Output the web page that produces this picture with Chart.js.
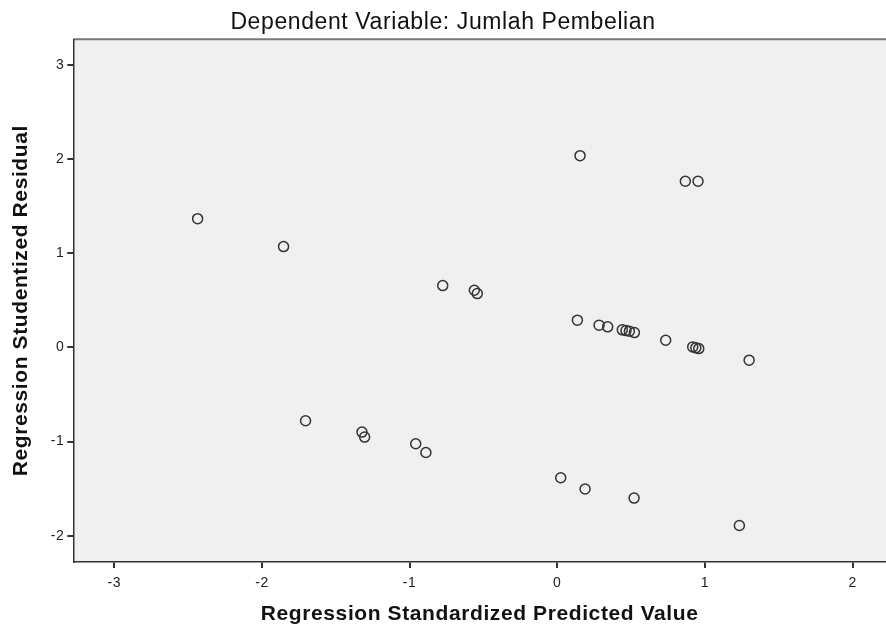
<!DOCTYPE html>
<html>
<head>
<meta charset="utf-8">
<script src="https://cdn.jsdelivr.net/npm/chart.js@4/dist/chart.umd.min.js"></script>
<style>
  body { margin: 0; background: #fff; }
  #wrap { width: 886px; height: 629px; }
</style>
</head>
<body>
<div id="wrap"><canvas id="scatter" width="886" height="629"></canvas></div>
<script>
// values
const predicted = [
    -2.436, -1.854, -0.776, -0.562, -0.542,
    0.154, 0.867, 0.953, 0.136, 0.283, 0.341,
    0.440, 0.465, 0.488, 0.522, 0.734,
    0.917, 0.938, 0.958, 1.299,
    -1.705, -1.323, -1.305, -0.959, -0.890,
    0.023, 0.188, 0.520, 1.233
];
const residual = [
    1.368, 1.071, 0.657, 0.608, 0.572,
    2.037, 1.765, 1.765, 0.290, 0.237, 0.219,
    0.187, 0.179, 0.173, 0.158, 0.077,
    0.006, -0.004, -0.012, -0.135,
    -0.779, -0.899, -0.952, -1.023, -1.116,
    -1.384, -1.504, -1.600, -1.891
];
const xTicks = [-3, -2, -1, 0, 1, 2];
const yTicks = [-2, -1, 0, 1, 2, 3];

const FONT = "'Liberation Sans', Arial, sans-serif";

// grey plot area with the darker top edge, and the slightly wide SPSS lettering
const plotBg = {
    id: 'plotBg',
    beforeInit(chart) {
        chart.ctx.letterSpacing = '0.6px';
    },
    beforeDraw(chart) {
        const { ctx, chartArea: a } = chart;
        ctx.letterSpacing = '0.6px';
        ctx.save();
        ctx.fillStyle = '#f0f0f0';
        ctx.fillRect(a.left, a.top, a.right - a.left, a.bottom - a.top);
        ctx.strokeStyle = '#777';
        ctx.lineWidth = 2;
        ctx.beginPath();
        ctx.moveTo(a.left, a.top);
        ctx.lineTo(a.right, a.top);
        ctx.stroke();
        ctx.restore();
    }
};

const points = predicted.map((x, i) => ({ x: x, y: residual[i] }));

new Chart(document.getElementById('scatter'), {
    type: 'scatter',
    data: {
        datasets: [{
            data: points,
            pointRadius: 5,
            pointHoverRadius: 5,
            pointBackgroundColor: 'rgba(0,0,0,0)',
            pointBorderColor: '#333',
            pointBorderWidth: 1.5
        }]
    },
    options: {
        responsive: false,
        animation: false,
        layout: { padding: 0, autoPadding: false },
        plugins: {
            legend: { display: false },
            tooltip: { enabled: false },
            title: {
                display: true,
                text: 'Dependent Variable: Jumlah Pembelian',
                color: '#111',
                font: { family: FONT, size: 23, weight: 'normal' },
                padding: { top: 8.5, bottom: 3.2 }
            }
        },
        scales: {
            x: {
                type: 'linear',
                min: -3.278,
                max: 2.226,
                afterBuildTicks(scale) { scale.ticks = xTicks.map(v => ({ value: v })); },
                afterFit(scale) { scale.height = 67; },
                ticks: { autoSkip: false, maxRotation: 0, padding: 7, color: '#222', font: { family: FONT, size: 14 } },
                grid: { drawOnChartArea: false, tickLength: 6, color: '#333', lineWidth: 2 },
                border: { display: true, color: '#333', width: 1.5 },
                title: {
                    display: true,
                    text: 'Regression Standardized Predicted Value',
                    color: '#111',
                    font: { family: FONT, size: 21, weight: 'bold' },
                    padding: { top: 0, bottom: 2.5 }
                }
            },
            y: {
                type: 'linear',
                min: -2.279,
                max: 3.273,
                afterBuildTicks(scale) { scale.ticks = yTicks.map(v => ({ value: v })); },
                afterFit(scale) { scale.width = 73.3; },
                ticks: { autoSkip: false, padding: 3, color: '#222', font: { family: FONT, size: 14 } },
                grid: { drawOnChartArea: false, tickLength: 6, color: '#333', lineWidth: 2 },
                border: { display: true, color: '#333', width: 1.5 },
                title: {
                    display: true,
                    text: 'Regression Studentized Residual',
                    color: '#111',
                    font: { family: FONT, size: 21, weight: 'bold' },
                    padding: { top: 8.5, bottom: 0 }
                }
            }
        }
    },
    plugins: [plotBg]
});
</script>
</body>
</html>
